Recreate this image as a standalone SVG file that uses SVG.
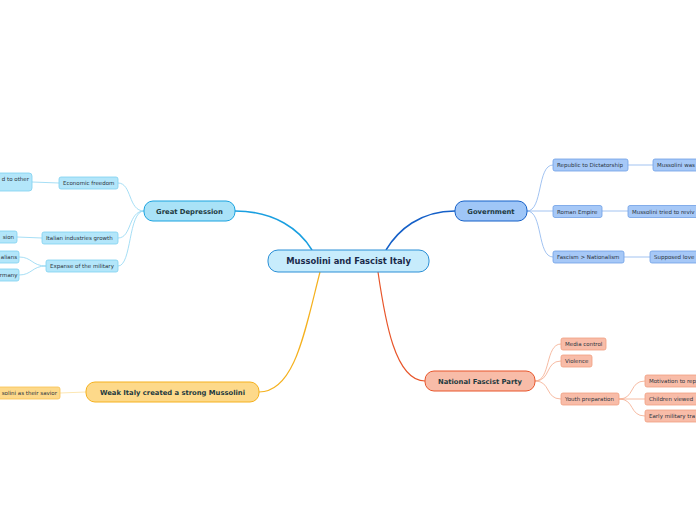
<svg xmlns="http://www.w3.org/2000/svg" width="696" height="520" viewBox="0 0 696 520">
<style>
text{font-family:"DejaVu Sans","Liberation Sans",sans-serif;}
.t{font-size:5.5px;fill:#2b3440;}
.m{font-size:6.8px;font-weight:bold;fill:#1d3a3f;text-anchor:middle;}
.c{font-size:8.4px;font-weight:bold;fill:#1a2a4a;text-anchor:middle;}
.gd{fill:#b3e6fa;stroke:#7fd0f0;stroke-width:0.8;}
.gv{fill:#a6c8f7;stroke:#6f9fe6;stroke-width:0.8;}
.nf{fill:#f8bca8;stroke:#f0a080;stroke-width:0.8;}
.wi{fill:#fdd98a;stroke:#f7c250;stroke-width:0.8;}
</style>
<rect width="696" height="520" fill="#ffffff"/>
<g id="connectors" fill="none">
<path d="M312,250 C300,230 275,211 235,211" stroke="#1a9fe0" stroke-width="1.5"/>
<path d="M386,250 C398,230 420,211 455,211" stroke="#1560c8" stroke-width="1.5"/>
<path d="M378,272 C385,320 395,381 425,381" stroke="#e8552a" stroke-width="1.2"/>
<path d="M320,272 C305,330 295,392 259,392" stroke="#f5b11e" stroke-width="1.2"/>
<g stroke="#8fd6f2" stroke-width="0.8">
<path d="M144,211 C128,211 132,183 118,183"/>
<path d="M144,211 C128,211 132,238 118,238"/>
<path d="M144,211 C128,211 132,266 118,266"/>
<path d="M59,183 L32,182"/>
<path d="M42,238 L17,237"/>
<path d="M46,266 C32,266 32,257 19,257"/>
<path d="M46,266 C32,266 32,275 19,275"/>
</g>
<g stroke="#8ab4ee" stroke-width="0.8">
<path d="M527,211 C543,211 537,165 553,165"/>
<path d="M527,211 L553,211"/>
<path d="M527,211 C543,211 537,257 553,257"/>
<path d="M628,165 L653,165"/>
<path d="M602,211 L628,211"/>
<path d="M624,257 L650,257"/>
</g>
<g stroke="#f4aa8c" stroke-width="0.8">
<path d="M535,381 C551,381 545,344 561,344"/>
<path d="M535,381 C551,381 545,361 561,361"/>
<path d="M535,381 C551,381 545,399 561,399"/>
<path d="M619,399 C635,399 629,381 645,381"/>
<path d="M619,399 L645,399"/>
<path d="M619,399 C635,399 629,416 645,416"/>
</g>
<path d="M86,392 L60,393" stroke="#fbe0a0" stroke-width="0.8"/>
</g>
<g id="center"><rect x="268" y="250" width="161" height="22" rx="10" fill="#c7ecfc" stroke="#2a8fd6" stroke-width="1"/><text class="c" x="348.5" y="264.2">Mussolini and Fascist Italy</text></g>
<g id="great-depression"><rect x="144" y="201" width="91" height="20" rx="9" fill="#a9e2f7" stroke="#1aa3e0" stroke-width="1"/><text class="m" x="189.5" y="213.6">Great Depression</text></g>
<g id="government"><rect x="455" y="201" width="72" height="20" rx="9" fill="#9fc6f7" stroke="#1560c8" stroke-width="1"/><text class="m" x="491" y="213.6">Government</text></g>
<g id="national-fascist-party"><rect x="425" y="371" width="110" height="20" rx="9" fill="#f8bca8" stroke="#e8552a" stroke-width="1"/><text class="m" x="480" y="383.6">National Fascist Party</text></g>
<g id="weak-italy"><rect x="86" y="382" width="173" height="20" rx="9" fill="#fdd98a" stroke="#f5b11e" stroke-width="1"/><text class="m" x="172.5" y="394.6">Weak Italy created a strong Mussolini</text></g>
<g id="economic-freedom"><rect class="gd" x="59" y="177" width="59" height="12" rx="2"/><text class="t" x="63" y="185">Economic freedom</text></g>
<g id="italian-industries"><rect class="gd" x="42" y="232" width="76" height="12" rx="2"/><text class="t" x="46" y="240">Italian industries growth</text></g>
<g id="expanse-military"><rect class="gd" x="46" y="260" width="72" height="12" rx="2"/><text class="t" x="50" y="268">Expanse of the military</text></g>
<g id="leaf-other"><rect class="gd" x="-20" y="173" width="52" height="18" rx="3"/><text class="t" x="29" y="181" text-anchor="end">d to other</text></g>
<g id="leaf-sion"><rect class="gd" x="-20" y="231" width="37" height="12" rx="2"/><text class="t" x="14" y="239" text-anchor="end">sion</text></g>
<g id="leaf-alians"><rect class="gd" x="-20" y="251" width="39" height="12" rx="2"/><text class="t" x="17" y="259" text-anchor="end">alians</text></g>
<g id="leaf-rmany"><rect class="gd" x="-20" y="269" width="39" height="12" rx="2"/><text class="t" x="17.5" y="277" text-anchor="end">rmany</text></g>
<g id="republic"><rect class="gv" x="553" y="159" width="75" height="12" rx="2"/><text class="t" x="557" y="167">Republic to Dictatorship</text></g>
<g id="roman-empire"><rect class="gv" x="553" y="205.5" width="49" height="12" rx="2"/><text class="t" x="557" y="213.5">Roman Empire</text></g>
<g id="fascism-nationalism"><rect class="gv" x="553" y="251" width="71" height="12" rx="2"/><text class="t" x="557" y="259">Fascism &gt; Nationalism</text></g>
<g id="leaf-mussolini-was"><rect class="gv" x="653" y="159" width="60" height="12" rx="2"/><text class="t" x="657" y="167">Mussolini was</text></g>
<g id="leaf-tried"><rect class="gv" x="628" y="205.5" width="80" height="12" rx="2"/><text class="t" x="632" y="213.5">Mussolini tried to reviv</text></g>
<g id="leaf-love"><rect class="gv" x="650" y="251" width="60" height="12" rx="2"/><text class="t" x="654" y="259">Supposed love</text></g>
<g id="media-control"><rect class="nf" x="561" y="338" width="45" height="12" rx="2"/><text class="t" x="565" y="346">Media control</text></g>
<g id="violence"><rect class="nf" x="561" y="355" width="31" height="12" rx="2"/><text class="t" x="565" y="363">Violence</text></g>
<g id="youth-preparation"><rect class="nf" x="561" y="393" width="58" height="12" rx="2"/><text class="t" x="565" y="401">Youth preparation</text></g>
<g id="leaf-motivation"><rect class="nf" x="645" y="375" width="60" height="12" rx="2"/><text class="t" x="649" y="383">Motivation to rep</text></g>
<g id="leaf-children"><rect class="nf" x="645" y="393" width="60" height="12" rx="2"/><text class="t" x="649" y="401">Children viewed</text></g>
<g id="leaf-early"><rect class="nf" x="645" y="410" width="60" height="12" rx="2"/><text class="t" x="649" y="418">Early military tra</text></g>
<g id="leaf-savior"><rect class="wi" x="-20" y="387" width="80" height="12" rx="2"/><text class="t" x="57" y="395" text-anchor="end">solini as their savior</text></g>
</svg>
